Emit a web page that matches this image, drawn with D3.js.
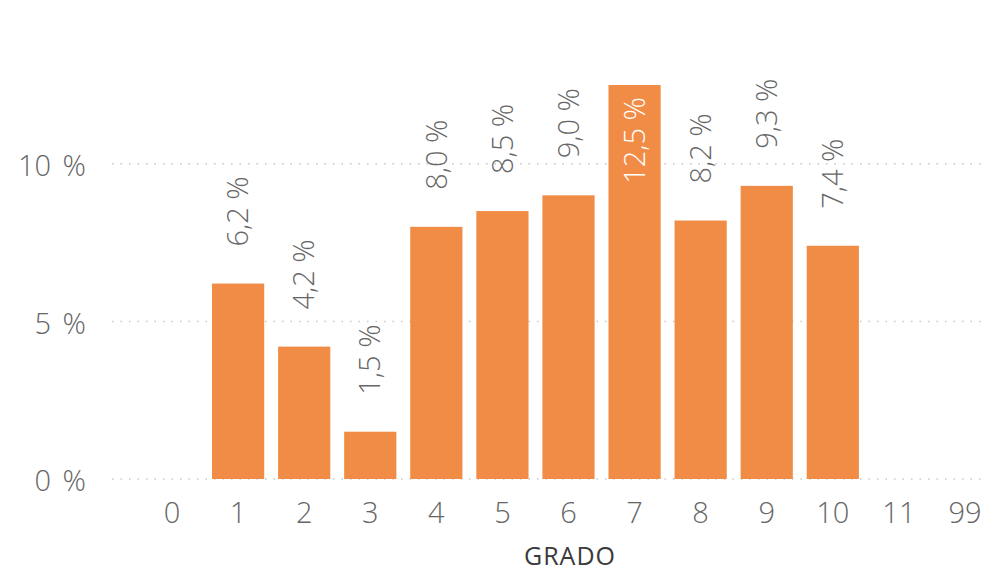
<!DOCTYPE html>
<meta charset="utf-8">
<style>
body { margin: 0; background: #fff; }
text { font-family: "Open Sans", "Noto Sans", sans-serif; }
</style>
<body>
<svg width="992" height="572"></svg>
<script src="https://cdnjs.cloudflare.com/ajax/libs/d3/7.8.5/d3.min.js"></script>
<script>

var grados = ["0", "1", "2", "3", "4", "5", "6", "7", "8", "9", "10", "11", "99"];
var valores = [null, 6.2, 4.2, 1.5, 8.0, 8.5, 9.0, 12.5, 8.2, 9.3, 7.4, null, null];
var yTicks = [0, 5, 10];

var svg = d3.select("svg");

var x = d3.scaleBand().domain(grados).range([139, 998]).paddingInner(0.21).paddingOuter(0.105);
var y = d3.scaleLinear().domain([0, 12.5]).range([479, 85]);

var fmt = function(v) { return d3.format(".1f")(v).replace(".", ",") + " %"; };

// gridlines
svg.append("g").selectAll("line")
    .data(yTicks)
  .enter().append("line")
    .attr("x1", 112).attr("x2", 985)
    .attr("y1", function(d) { return y(d); })
    .attr("y2", function(d) { return y(d); })
    .attr("stroke", "#c8c8c8")
    .attr("stroke-width", 1.5)
    .attr("stroke-dasharray", "1.5,7");

// y labels
svg.append("g").selectAll("text")
    .data(yTicks)
  .enter().append("text")
    .attr("x", 86)
    .attr("y", function(d) { return y(d) + 2; })
    .attr("dy", "0.35em")
    .attr("text-anchor", "end")
    .attr("font-size", "29px")
    .attr("font-weight", 300)
    .attr("word-spacing", "4px")
    .attr("fill", "#666")
    .text(function(d) { return d + " %"; });

var data = grados.map(function(g, i) { return {g: g, v: valores[i]}; });
var bars = data.filter(function(d) { return d.v != null; });

svg.append("g").selectAll("rect")
    .data(bars)
  .enter().append("rect")
    .attr("x", function(d) { return x(d.g); })
    .attr("width", x.bandwidth())
    .attr("y", function(d) { return y(d.v); })
    .attr("height", function(d) { return y(0) - y(d.v); })
    .attr("fill", "#F08C45");

// data labels
svg.append("g").selectAll("text")
    .data(bars)
  .enter().append("text")
    .attr("transform", function(d) {
      var cx = x(d.g) + x.bandwidth() / 2;
      var inside = d.v > 12;
      var yy = inside ? y(d.v) + 12 : y(d.v) - 37;
      return "translate(" + cx + "," + yy + ") rotate(-90)";
    })
    .attr("text-anchor", function(d) { return d.v > 12 ? "end" : "start"; })
    .attr("dy", "0.35em")
    .attr("font-size", "29px")
    .attr("font-weight", 300)
    .attr("fill", function(d) { return d.v > 12 ? "#fff" : "#666"; })
    .text(function(d) { return fmt(d.v); });

// x axis labels
svg.append("g").selectAll("text")
    .data(grados)
  .enter().append("text")
    .attr("x", function(d) { return x(d) + x.bandwidth() / 2; })
    .attr("y", 513)
    .attr("dy", "0.35em")
    .attr("text-anchor", "middle")
    .attr("font-size", "29px")
    .attr("font-weight", 300)
    .attr("fill", "#666")
    .text(function(d) { return d; });

svg.append("text")
    .attr("x", 570)
    .attr("y", 565)
    .attr("text-anchor", "middle")
    .attr("font-size", "25px")
    .attr("font-family", "Roboto, sans-serif")
    .attr("font-weight", 500)
    .attr("letter-spacing", "1px")
    .attr("fill", "#3a3a3a")
    .text("GRADO");

</script>
</body>
